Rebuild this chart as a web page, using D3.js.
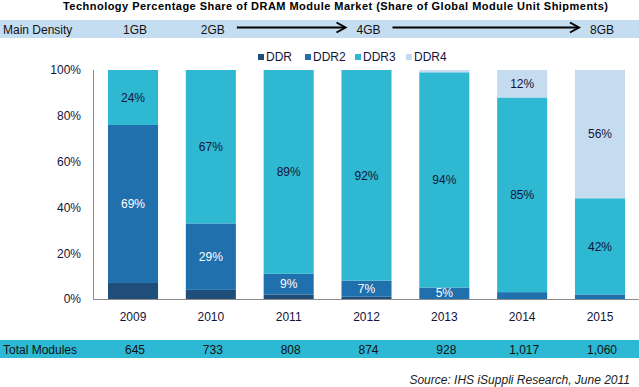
<!DOCTYPE html>
<html>
<head>
<meta charset="utf-8">
<script src="https://cdn.jsdelivr.net/npm/d3@7"></script>
<style>
  body { margin: 0; background: #fff; }
  svg { font-family: "Liberation Sans", Arial, sans-serif; }
</style>
</head>
<body>
<svg id="chart" width="639" height="387"></svg>
<script>
// chart data
var years = ["2009", "2010", "2011", "2012", "2013", "2014", "2015"];
var series = ["DDR", "DDR2", "DDR3", "DDR4"];
var ddr  = [7, 4, 2, 1, 0, 0, 0];
var ddr2 = [69, 29, 9, 7, 5, 3, 2];
var ddr3 = [24, 67, 89, 92, 94, 85, 42];
var ddr4 = [0, 0, 0, 0, 1, 12, 56];
var totalModules = ["645", "733", "808", "874", "928", "1,017", "1,060"];
var densities = [["2009", "1GB"], ["2010", "2GB"], ["2012", "4GB"], ["2015", "8GB"]];
var yTicks = [0, 20, 40, 60, 80, 100];

var colors = { DDR: "#1e4e79", DDR2: "#1f70ad", DDR3: "#2eb8d2", DDR4: "#c5dcf0" };
var textDark = "#14143a";

var svg = d3.select("#chart");

var x = d3.scaleBand().domain(years).range([94, 639])
    .paddingInner(0.357).paddingOuter(0.18);
var y = d3.scaleLinear().domain([0, 100]).range([299, 70]);

// build table for stack
var rows = years.map(function(yr, i) {
  return { year: yr, DDR: ddr[i], DDR2: ddr2[i], DDR3: ddr3[i], DDR4: ddr4[i] };
});
var stacked = d3.stack().keys(series)(rows);

// title
svg.append("text")
  .attr("x", 63).attr("y", 10)
  .attr("textLength", 545).attr("lengthAdjust", "spacing")
  .style("font-size", "11px").style("font-weight", "bold").attr("fill", "#000")
  .text("Technology Percentage Share of DRAM Module Market (Share of Global Module Unit Shipments)");

// main density row
svg.append("rect").attr("x", 0).attr("y", 20).attr("width", 639).attr("height", 18)
  .attr("fill", "#c5ddf0");
svg.append("text").attr("x", 3).attr("y", 33.5)
  .style("font-size", "12px").attr("fill", "#111").text("Main Density");
svg.selectAll("text.dens").data(densities).enter().append("text")
  .attr("class", "dens")
  .attr("x", function(d) { return x(d[0]) + x.bandwidth() / 2 + 2; })
  .attr("y", 33.5).attr("text-anchor", "middle")
  .style("font-size", "12px").attr("fill", "#111")
  .text(function(d) { return d[1]; });

// arrows between densities
var arrows = [["2010", "2012"], ["2012", "2015"]];
arrows.forEach(function(a) {
  var x1 = x(a[0]) + x.bandwidth() / 2 + 26;
  var x2 = x(a[1]) + x.bandwidth() / 2 - 21;
  var yy = 27.5;
  svg.append("line").attr("x1", x1).attr("x2", x2 - 1).attr("y1", yy).attr("y2", yy)
    .attr("stroke", "#000").attr("stroke-width", 2);
  svg.append("path")
    .attr("d", "M" + (x2 - 9) + "," + (yy - 5) + "L" + x2 + "," + yy + "L" + (x2 - 9) + "," + (yy + 5))
    .attr("fill", "none").attr("stroke", "#000").attr("stroke-width", 2);
});

// legend
var legendX = [258, 305, 355, 406];
var legend = svg.selectAll("g.legend").data(series).enter().append("g")
  .attr("class", "legend")
  .attr("transform", function(d, i) { return "translate(" + legendX[i] + ",0)"; });
legend.append("rect").attr("x", 0).attr("y", 54).attr("width", 6).attr("height", 6)
  .attr("fill", function(d) { return colors[d]; });
legend.append("text").attr("x", 8).attr("y", 60.5)
  .style("font-size", "12px").attr("fill", textDark)
  .text(function(d) { return d; });

// bars
var layer = svg.selectAll("g.layer").data(stacked).enter().append("g")
  .attr("class", "layer")
  .attr("fill", function(d) { return colors[d.key]; });
layer.selectAll("rect").data(function(d) { return d; }).enter().append("rect")
  .attr("x", function(d) { return x(d.data.year); })
  .attr("width", x.bandwidth())
  .attr("y", function(d) { return y(d[1]); })
  .attr("height", function(d) { return y(d[0]) - y(d[1]); });

// value labels
stacked.forEach(function(s) {
  if (s.key === "DDR") return;
  svg.selectAll(null).data(s.filter(function(d) { return d[1] - d[0] >= 5; }))
    .enter().append("text")
    .attr("x", function(d) { return x(d.data.year) + x.bandwidth() / 2; })
    .attr("y", function(d) { return (y(d[0]) + y(d[1])) / 2; })
    .attr("dy", "0.35em").attr("text-anchor", "middle")
    .style("font-size", "12px")
    .attr("fill", s.key === "DDR2" ? "#fff" : textDark)
    .text(function(d) { return Math.round(d[1] - d[0]) + "%"; });
});

// y axis
var yAxis = d3.axisLeft(y).tickValues(yTicks)
  .tickFormat(function(d) { return d + "%"; })
  .tickSize(0).tickPadding(12);
var gy = svg.append("g").attr("transform", "translate(93,0)").call(yAxis);
gy.select(".domain").remove();
gy.selectAll("text").style("font-size", "12px").attr("fill", textDark)
  .style("font-family", "Liberation Sans, Arial, sans-serif");
svg.append("line").attr("x1", 93.5).attr("x2", 93.5).attr("y1", 70).attr("y2", 299.5)
  .attr("stroke", "#8c8c8c").attr("stroke-width", 1);
svg.append("line").attr("x1", 93).attr("x2", 639).attr("y1", 299.5).attr("y2", 299.5)
  .attr("stroke", "#8c8c8c").attr("stroke-width", 1);

// x axis labels
var xAxis = d3.axisBottom(x).tickSize(0).tickPadding(12);
var gx = svg.append("g").attr("transform", "translate(0,300)").call(xAxis);
gx.select(".domain").remove();
gx.selectAll("text").style("font-size", "12px").attr("fill", textDark)
  .style("font-family", "Liberation Sans, Arial, sans-serif");

// total modules row
svg.append("rect").attr("x", 0).attr("y", 340).attr("width", 639).attr("height", 18)
  .attr("fill", "#2db8d3");
svg.append("text").attr("x", 3).attr("y", 353.5)
  .style("font-size", "12px").attr("fill", "#111").text("Total Modules");
svg.selectAll("text.total").data(totalModules).enter().append("text")
  .attr("class", "total")
  .attr("x", function(d, i) { return x(years[i]) + x.bandwidth() / 2 + 2; })
  .attr("y", 353.5).attr("text-anchor", "middle")
  .style("font-size", "12px").attr("fill", "#111")
  .text(function(d) { return d; });

// source note
svg.append("text").attr("x", 630).attr("y", 384).attr("text-anchor", "end")
  .style("font-size", "12px").style("font-style", "italic").attr("fill", "#222")
  .text("Source: IHS iSuppli Research, June 2011");
</script>
</body>
</html>
